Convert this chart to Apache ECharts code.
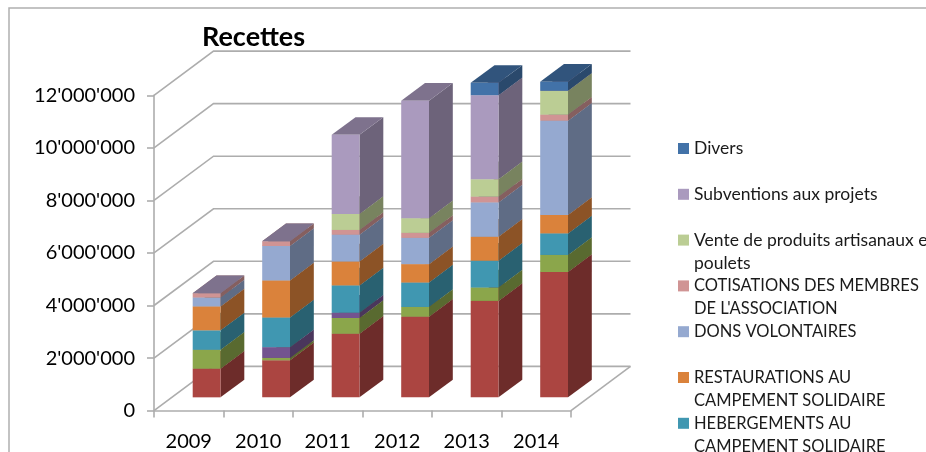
<!DOCTYPE html>
<html><head><meta charset="utf-8">
<style>html,body{margin:0;padding:0;background:#fff}#c{width:926px;height:452px}</style>
<script src="https://cdn.jsdelivr.net/npm/echarts@6/dist/echarts.min.js"></script>
</head><body><div id="c"></div>
<script>
const categories = ['2009','2010','2011','2012','2013','2014'];
const yTicks = [0,2000000,4000000,6000000,8000000,10000000,12000000];
const rouge   = [1090000,1410000,2420000,3070000,3670000,4770000];
const vert    = [720000,90000,600000,370000,510000,650000];
const violet  = [0,410000,200000,0,0,0];
const hebergements  = [740000,1130000,1040000,930000,1020000,820000];
const restaurations = [910000,1410000,910000,700000,910000,700000];
const dons          = [340000,1310000,1020000,1000000,1310000,3590000];
const cotisations   = [165000,180000,180000,190000,220000,230000];
const vente         = [0,0,610000,560000,660000,910000];
const subventions   = [0,0,3010000,4470000,3200000,0];
const divers        = [0,0,0,0,470000,340000];

const stack = [
  {name:'Série rouge', values:rouge, color:'#AB4541'},
  {name:'Série verte', values:vert, color:'#8BA64B'},
  {name:'Série violette', values:violet, color:'#73548F'},
  {name:'HEBERGEMENTS AU CAMPEMENT SOLIDAIRE', values:hebergements, color:'#4097B1'},
  {name:'RESTAURATIONS AU CAMPEMENT SOLIDAIRE', values:restaurations, color:'#DA823B'},
  {name:'DONS VOLONTAIRES', values:dons, color:'#95A9D0'},
  {name:"COTISATIONS DES MEMBRES DE L'ASSOCIATION", values:cotisations, color:'#D09494'},
  {name:'Vente de produits artisanaux et poulets', values:vente, color:'#BBCD94'},
  {name:'Subventions aux projets', values:subventions, color:'#AA9ABE', keepZero:true},
  {name:'Divers', values:divers, color:'#4272A8'}
];
const legendLines = {
  'Divers':'{l|Divers}\n{l| }',
  'Subventions aux projets':'{l|Subventions aux projets}\n{l| }',
  'Vente de produits artisanaux et poulets':'{l|Vente de produits artisanaux et}\n{l|poulets}',
  "COTISATIONS DES MEMBRES DE L'ASSOCIATION":"{u|COTISATIONS DES MEMBRES}\n{u|DE L'ASSOCIATION}",
  'DONS VOLONTAIRES':'{u|DONS VOLONTAIRES}\n{u| }',
  'RESTAURATIONS AU CAMPEMENT SOLIDAIRE':'{u|RESTAURATIONS AU}\n{u|CAMPEMENT SOLIDAIRE}',
  'HEBERGEMENTS AU CAMPEMENT SOLIDAIRE':'{u|HEBERGEMENTS AU}\n{u|CAMPEMENT SOLIDAIRE}'
};

const FONT = 'Lato';
const WALL = '#ADADAD';
const DEPTH_X = 59.5, DEPTH_Y = -44.2;   // full depth of the 3D box
const BAR_NEAR = 0.3, BAR_FAR = 0.7, BAR_RATIO = 0.4;

function shade(hex, f){
  const n = parseInt(hex.slice(1),16);
  const c = [n>>16,(n>>8)&255,n&255].map(v=>Math.round(v*f));
  return 'rgb('+c.join(',')+')';
}
function poly(points, fill){
  return {type:'polygon', shape:{points}, style:{fill, stroke:null}};
}
function barSeries(s){
  const data = [];
  s.values.forEach((v,i)=>{
    if(!v && !s.keepZero) return;
    let base = 0;
    for(const o of stack){ if(o===s) break; base += o.values[i]; }
    data.push([i, base, base+v]);
  });
  return {
    type:'custom', name:s.name, itemStyle:{color:s.color}, z:5,
    encode:{x:0,y:[1,2]}, data,
    renderItem(params, api){
      const i = api.value(0);
      const lo = api.coord([i, api.value(1)]);
      const hi = api.coord([i, api.value(2)]);
      const band = api.size([1,0])[0];
      const w = band*BAR_RATIO;
      const nx = DEPTH_X*BAR_NEAR, ny = DEPTH_Y*BAR_NEAR;
      const fx = DEPTH_X*(BAR_FAR-BAR_NEAR), fy = DEPTH_Y*(BAR_FAR-BAR_NEAR);
      const x0 = lo[0]-w/2+nx, x1 = lo[0]+w/2+nx;
      const y0 = lo[1]+ny, y1 = hi[1]+ny;
      return {type:'group', children:[
        poly([[x1,y0],[x1+fx,y0+fy],[x1+fx,y1+fy],[x1,y1]], shade(s.color,0.64)),
        poly([[x0,y1],[x1,y1],[x1+fx,y1+fy],[x0+fx,y1+fy]], shade(s.color,0.74)),
        poly([[x0,y0],[x1,y0],[x1,y1],[x0,y1]], s.color)
      ]};
    }
  };
}
const wallSeries = {
  type:'custom', silent:true, z:1, encode:{y:0}, legendHoverLink:false,
  data: yTicks.map(v=>[v]),
  renderItem(params, api){
    const v = api.value(0);
    const band = api.size([1,0])[0];
    const c0 = api.coord([0,v]), c5 = api.coord([categories.length-1,v]);
    const xl = c0[0]-band/2, xr = c5[0]+band/2, y = c0[1];
    const st = {stroke:WALL, lineWidth:1.6, fill:null};
    const kids = [
      {type:'polyline', shape:{points:[[xl,y],[xl+DEPTH_X,y+DEPTH_Y],[xr+DEPTH_X,y+DEPTH_Y]]}, style:st}
    ];
    if(v===0) kids.push({type:'line', shape:{x1:xr,y1:y,x2:xr+DEPTH_X,y2:y+DEPTH_Y}, style:st});
    return {type:'group', children:kids};
  }
};

const chart = echarts.init(document.getElementById('c'), null, {renderer:'canvas'});
chart.setOption({
  animation:false,
  backgroundColor:'#fff',
  title:{text:'Recettes', left:202, top:24, padding:0,
    textStyle:{fontFamily:FONT, fontWeight:'bold', fontSize:27, color:'#000'}},
  graphic:[{type:'rect', z:-1, silent:true, shape:{x:9,y:8,width:1000,height:1000},
    style:{fill:null, stroke:'#B0B0B0', lineWidth:1.5}}],
  grid:{left:154, right:355, top:95.3, bottom:41.4, containLabel:false},
  legend:{
    orient:'vertical', left:678, top:137, height:600, padding:0, itemGap:-0.2, itemWidth:11, itemHeight:46,
    selectedMode:false,
    icon:'path://M0 0L0 0M11 46L11 46M0 6H11V17H0Z',
    data:Object.keys(legendLines),
    formatter:n=>legendLines[n],
    textStyle:{fontFamily:FONT, color:'#1a1a1a',
      rich:{
        l:{fontFamily:FONT, fontSize:17.5, lineHeight:23, color:'#1a1a1a'},
        u:{fontFamily:FONT, fontSize:16.5, lineHeight:23, color:'#1a1a1a'}
      }}
  },
  xAxis:{type:'category', data:categories,
    axisLine:{lineStyle:{color:WALL,width:1.6}},
    axisTick:{show:true, alignWithLabel:false, length:7, lineStyle:{color:WALL,width:1.6}},
    axisLabel:{fontFamily:FONT, fontSize:20, color:'#000', margin:21}},
  yAxis:{type:'value', min:0, max:12000000, interval:2000000,
    axisLine:{show:true, lineStyle:{color:WALL,width:1.6}},
    axisTick:{show:true, length:7, lineStyle:{color:WALL,width:1.6}},
    splitLine:{show:false},
    axisLabel:{fontFamily:FONT, fontSize:20, color:'#000', margin:19, padding:[3,0,0,0],
      formatter:v=>String(v).replace(/\B(?=(\d{3})+$)/g,"'")}},
  series:[wallSeries].concat(stack.map(barSeries))
});
</script></body></html>
